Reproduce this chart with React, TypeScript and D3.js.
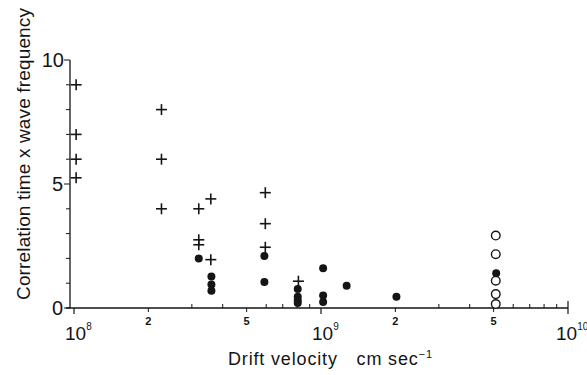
import * as d3 from "d3";

// drift velocity (cm/s) and correlation time x wave frequency
const plusX = [1.02e8, 1.02e8, 1.02e8, 1.02e8, 2.26e8, 2.26e8, 2.26e8, 3.2e8, 3.2e8, 3.2e8, 3.58e8, 3.58e8, 5.95e8, 5.95e8, 5.95e8, 8.1e8];
const plusY = [9.0, 7.0, 6.0, 5.25, 8.0, 6.0, 4.0, 4.0, 2.75, 2.55, 4.4, 1.95, 4.65, 3.4, 2.45, 1.08];

const dotX = [3.2e8, 3.6e8, 3.6e8, 3.6e8, 5.9e8, 5.9e8, 8.05e8, 8.05e8, 8.05e8, 8.05e8, 1.02e9, 1.02e9, 1.02e9, 1.27e9, 2.02e9, 5.12e9];
const dotY = [2.0, 1.27, 0.95, 0.7, 2.1, 1.05, 0.77, 0.45, 0.3, 0.2, 1.6, 0.5, 0.24, 0.9, 0.45, 1.4];

const openX = [5.1e9, 5.1e9, 5.1e9, 5.1e9, 5.1e9];
const openY = [2.92, 2.17, 1.1, 0.56, 0.16];

const yTicks = d3.range(0, 11);
const yLabels = [0, 5, 10];
const xDecades = [1e8, 1e9, 1e10];
const xLabelled = [2e8, 5e8, 2e9, 5e9];

const W = 587;
const H = 375;
const ink = "#151515";
const font = "'Liberation Sans', Arial, sans-serif";

export default function App() {
  const x = d3.scaleLog().domain([1e8, 1e10]).range([74, 568]);
  const y = d3.scaleLinear().domain([0, 10]).range([308, 60]);
  const minor = x.ticks().filter((t) => !xDecades.includes(t));

  return (
    <svg
      width={W}
      height={H}
      style={{ position: "absolute", left: 0, top: 0, background: "#fff" }}
      fontFamily={font}
    >
      {/* axes */}
      <line x1={70} x2={70} y1={y(10)} y2={y(0)} stroke={ink} strokeWidth={1.3} />
      <line x1={66} x2={x(1e10)} y1={y(0)} y2={y(0)} stroke={ink} strokeWidth={1.3} />

      {yTicks.map((t) => (
        <line key={t} x1={yLabels.includes(t) ? 64 : 66} x2={70} y1={y(t)} y2={y(t)} stroke={ink} strokeWidth={1} />
      ))}
      {yLabels.map((t) => (
        <text key={t} x={t === 10 ? 64 : 63} y={y(t) + 7} textAnchor="end" fontSize={20} fill={ink}>
          {t}
        </text>
      ))}

      {minor.map((t) => (
        <line key={t} x1={x(t)} x2={x(t)} y1={y(0)} y2={y(0) - (xLabelled.includes(t) ? 0 : 4)} stroke={ink} strokeWidth={1} />
      ))}
      {xLabelled.map((t) => (
        <line key={"d" + t} x1={x(t)} x2={x(t)} y1={y(0)} y2={y(0) + 4} stroke={ink} strokeWidth={1} />
      ))}
      {xDecades.map((t) => (
        <line key={"D" + t} x1={x(t)} x2={x(t)} y1={y(0) + (t === 1e10 ? -7 : 0)} y2={y(0) + 6} stroke={ink} strokeWidth={1.2} />
      ))}
      {xLabelled.map((t) => (
        <text key={"l" + t} x={x(t)} y={y(0) + 17} textAnchor="middle" fontSize={11} fontWeight="bold" fill={ink}>
          {String(t).charAt(0)}
        </text>
      ))}
      {xDecades.map((t) => (
        <text key={"L" + t} x={x(t) - (t === 1e10 ? 12 : 9)} y={y(0) + 32} fontSize={19} fill={ink}>
          10
          <tspan dy={-10} fontSize={10}>
            {Math.round(Math.log10(t))}
          </tspan>
        </text>
      ))}

      {/* axis titles */}
      <text x={228} y={365} fontSize={18} fill={ink} textLength={204} lengthAdjust="spacing">
        Drift velocity{"\u2003"}cm sec
        <tspan dy={-7} fontSize={11}>
          −1
        </tspan>
      </text>
      <text
        transform={`translate(30,${154}) rotate(-90)`}
        textAnchor="middle"
        fontSize={19}
        fill={ink}
        textLength={292}
        lengthAdjust="spacing"
      >
        Correlation time x wave frequency
      </text>

      {/* marks */}
      {plusX.map((v, i) => (
        <g key={"p" + i} stroke={ink} strokeWidth={1.6}>
          <line x1={x(v) - 5.5} x2={x(v) + 5.5} y1={y(plusY[i])} y2={y(plusY[i])} />
          <line x1={x(v)} x2={x(v)} y1={y(plusY[i]) - 5.5} y2={y(plusY[i]) + 5.5} />
        </g>
      ))}
      {openX.map((v, i) => (
        <circle key={"o" + i} cx={x(v)} cy={y(openY[i])} r={4.3} fill="#fff" stroke={ink} strokeWidth={1.4} />
      ))}
      {dotX.map((v, i) => (
        <circle key={"f" + i} cx={x(v)} cy={y(dotY[i])} r={4} fill={ink} />
      ))}
    </svg>
  );
}
